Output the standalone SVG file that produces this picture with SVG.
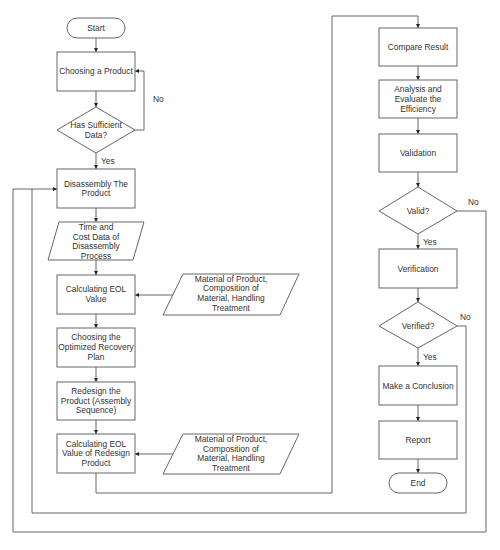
<svg xmlns="http://www.w3.org/2000/svg" width="500" height="550" viewBox="0 0 500 550">
<style>
.s{fill:#fff;stroke:#666;stroke-width:1}
.c{fill:none;stroke:#666;stroke-width:1}
.a{marker-end:url(#ah)}
text{font-family:"Liberation Sans",Arial,sans-serif;font-size:8.4px;fill:#333;text-anchor:middle}
.l{text-anchor:start}
</style>
<defs>
<marker id="ah" viewBox="0 0 8 8" refX="8" refY="4" markerWidth="4" markerHeight="4" orient="auto" markerUnits="userSpaceOnUse">
<path d="M0,0 L8,4 L0,8 z" fill="#222"/>
</marker>
</defs>
<rect width="500" height="550" fill="#fff"/>
<g id="connectors">
<path class="c a" d="M96,38 V52"/>
<path class="c a" d="M96,91 V107"/>
<path class="c a" d="M135,130 H144 V71 H135"/>
<path class="c a" d="M96,153 V169"/>
<path class="c a" d="M96,208 V222"/>
<path class="c a" d="M96,260 V275"/>
<path class="c a" d="M173,295 H135"/>
<path class="c a" d="M96,314 V328"/>
<path class="c a" d="M96,367 V382"/>
<path class="c a" d="M96,420 V434"/>
<path class="c a" d="M173,454 H135"/>
<path class="c a" d="M96,473 V493 H332 V16 H418 V28"/>
<path class="c a" d="M418,66 V80"/>
<path class="c a" d="M418,118 V134"/>
<path class="c a" d="M418,172 V187"/>
<path class="c a" d="M457,211 H486 V532 H13 V189 H57"/>
<path class="c a" d="M418,234 V249"/>
<path class="c a" d="M418,288 V302"/>
<path class="c" d="M457,326 H466 V513 H32 V189"/>
<path class="c a" d="M418,348 V366"/>
<path class="c a" d="M418,405 V421"/>
<path class="c a" d="M418,459 V473"/>
<text class="l" x="153" y="102">No</text>
<text class="l" x="101" y="164">Yes</text>
<text class="l" x="468" y="205">No</text>
<text class="l" x="423" y="245">Yes</text>
<text class="l" x="460" y="320">No</text>
<text class="l" x="423" y="360">Yes</text>
</g>
<g id="start"><rect class="s" x="67" y="18" width="58" height="20" rx="10"/><text x="96" y="31">Start</text></g>
<g id="choose"><rect class="s" x="57" y="52" width="78" height="39"/><text x="96" y="74">Choosing a Product</text></g>
<g id="sufficient"><polygon class="s" points="96,107 135,130 96,153 57,130"/><text x="96" y="128">Has Sufficient</text><text x="96" y="138">Data?</text></g>
<g id="disassembly"><rect class="s" x="57" y="169" width="78" height="39"/><text x="96" y="187">Disassembly The</text><text x="96" y="196">Product</text></g>
<g id="timecost"><polygon class="s" points="59,222 144,222 133,260 48,260"/><text x="96" y="230">Time and</text><text x="96" y="240">Cost Data of</text><text x="96" y="249">Disassembly</text><text x="96" y="259">Process</text></g>
<g id="eol"><rect class="s" x="57" y="275" width="78" height="39"/><text x="96" y="292">Calculating EOL</text><text x="96" y="302">Value</text></g>
<g id="material1"><polygon class="s" points="183,274 299,274 280,315 163,315"/><text x="231" y="282">Material of Product,</text><text x="231" y="291">Composition of</text><text x="231" y="301">Material, Handling</text><text x="231" y="311">Treatment</text></g>
<g id="optimized"><rect class="s" x="57" y="328" width="78" height="39"/><text x="96" y="340">Choosing the</text><text x="96" y="350">Optimized Recovery</text><text x="96" y="360">Plan</text></g>
<g id="redesign"><rect class="s" x="57" y="382" width="78" height="38"/><text x="96" y="394">Redesign the</text><text x="96" y="404">Product (Assembly</text><text x="96" y="413">Sequence)</text></g>
<g id="eol2"><rect class="s" x="57" y="434" width="78" height="39"/><text x="96" y="447">Calculating EOL</text><text x="96" y="456">Value of Redesign</text><text x="96" y="466">Product</text></g>
<g id="material2"><polygon class="s" points="183,434 299,434 280,474 163,474"/><text x="231" y="442">Material of Product,</text><text x="231" y="452">Composition of</text><text x="231" y="461">Material, Handling</text><text x="231" y="471">Treatment</text></g>
<g id="compare"><rect class="s" x="379" y="28" width="78" height="38"/><text x="418" y="50">Compare Result</text></g>
<g id="analysis"><rect class="s" x="379" y="80" width="78" height="38"/><text x="418" y="92">Analysis and</text><text x="418" y="102">Evaluate the</text><text x="418" y="112">Efficiency</text></g>
<g id="validation"><rect class="s" x="379" y="134" width="78" height="38"/><text x="418" y="156">Validation</text></g>
<g id="valid"><polygon class="s" points="418,187 457,211 418,234 379,211"/><text x="418" y="214">Valid?</text></g>
<g id="verification"><rect class="s" x="379" y="249" width="78" height="39"/><text x="418" y="272">Verification</text></g>
<g id="verified"><polygon class="s" points="418,302 457,326 418,348 379,326"/><text x="418" y="329">Verified?</text></g>
<g id="conclusion"><rect class="s" x="379" y="366" width="78" height="39"/><text x="418" y="389">Make a Conclusion</text></g>
<g id="report"><rect class="s" x="379" y="421" width="78" height="38"/><text x="418" y="443">Report</text></g>
<g id="end"><rect class="s" x="389" y="473" width="58" height="20" rx="10"/><text x="418" y="486">End</text></g>
</svg>
